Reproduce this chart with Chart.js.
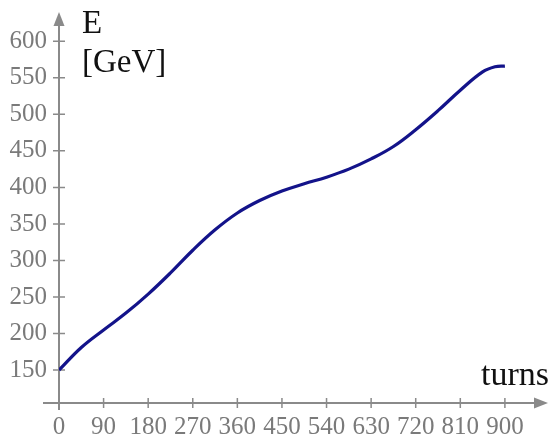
<!DOCTYPE html>
<html>
<head>
<meta charset="utf-8">
<script src="https://cdn.jsdelivr.net/npm/chart.js@4"></script>
<style>
  html, body { margin: 0; padding: 0; background: #fff; }
  #wrap { width: 550px; height: 437px; }
</style>
</head>
<body>
<div id="wrap"><canvas id="energyChart"></canvas></div>
<script>
// values
var turns  = [0, 45, 90, 135, 180, 225, 270, 315, 360, 405, 450, 495, 540, 585, 630, 675, 720, 765, 810, 855, 880, 900];
var energy = [150, 181, 205, 228, 254, 283, 314, 342, 365, 382, 395, 405, 414, 425, 439, 456, 479, 505, 533, 558, 565, 566];
var xTicks = [0, 90, 180, 270, 360, 450, 540, 630, 720, 810, 900];
var yTicks = [150, 200, 250, 300, 350, 400, 450, 500, 550, 600];

var axisColor = "#8a8a8a";
var serif = "'Liberation Serif', 'DejaVu Serif', serif";

function points() {
    let pts = [];
    for (let i = 0; i < turns.length; i++) {
        pts.push({ x: turns[i], y: energy[i] });
    }
    return pts;
}

// draws the arrowed axes, crossing tick marks and axis titles
var axesPlugin = {
    id: "arrowAxes",
    beforeDatasetsDraw: function (chart) {
        let ctx = chart.ctx;
        let xs = chart.scales.x, ys = chart.scales.y;
        let x0 = xs.getPixelForValue(0);
        let yb = chart.chartArea.bottom;
        let top = chart.chartArea.top;
        let right = chart.chartArea.right;

        ctx.save();
        ctx.strokeStyle = axisColor;
        ctx.fillStyle = axisColor;
        ctx.lineWidth = 2;

        ctx.beginPath();
        ctx.moveTo(43, yb);
        ctx.lineTo(right - 8, yb);
        ctx.moveTo(x0, yb + 7);
        ctx.lineTo(x0, top + 8);
        ctx.stroke();

        // arrow heads
        ctx.beginPath();
        ctx.moveTo(x0, top);
        ctx.lineTo(x0 - 5.5, top + 14);
        ctx.lineTo(x0 + 5.5, top + 14);
        ctx.closePath();
        ctx.fill();
        ctx.beginPath();
        ctx.moveTo(right, yb);
        ctx.lineTo(right - 14, yb - 5.5);
        ctx.lineTo(right - 14, yb + 5.5);
        ctx.closePath();
        ctx.fill();

        ctx.lineWidth = 1.5;
        ctx.beginPath();
        xTicks.forEach(function (t) {
            let px = xs.getPixelForValue(t);
            ctx.moveTo(px, yb - 5);
            ctx.lineTo(px, yb + 5);
        });
        yTicks.forEach(function (t) {
            let py = ys.getPixelForValue(t);
            ctx.moveTo(x0 - 6, py);
            ctx.lineTo(x0 + 6, py);
        });
        ctx.stroke();

        ctx.fillStyle = "#111";
        ctx.font = "33px " + serif;
        ctx.textAlign = "left";
        ctx.textBaseline = "alphabetic";
        ctx.fillText("E", 82, 33);
        ctx.fillText("[GeV]", 82, 72);
        ctx.font = "34px " + serif;
        ctx.textAlign = "right";
        ctx.fillText("turns", 549, 385);
        ctx.restore();
    }
};

let ctx = document.getElementById("energyChart").getContext("2d");

var energyChart = new Chart(ctx, {
    type: "line",
    data: {
        datasets: [{
            data: points(),
            borderColor: "#13138a",
            borderWidth: 3.2,
            pointRadius: 0,
            fill: false,
            tension: 0.4
        }]
    },
    options: {
        responsive: true,
        maintainAspectRatio: false,
        animation: false,
        layout: { padding: { top: 12, right: 2, left: 0, bottom: 0 } },
        plugins: { legend: { display: false }, tooltip: { enabled: false } },
        scales: {
            x: {
                type: "linear",
                min: 0,
                max: 987,
                grid: { display: false },
                border: { display: false },
                afterBuildTicks: function (scale) {
                    scale.ticks = xTicks.map(function (v) { return { value: v }; });
                },
                afterFit: function (scale) {
                    scale.height = 34;
                    scale.paddingLeft = 0;
                    scale.paddingRight = 0;
                },
                ticks: {
                    autoSkip: false,
                    maxRotation: 0,
                    padding: 1,
                    color: "#7a7a7a",
                    font: { family: serif, size: 25 }
                }
            },
            y: {
                type: "linear",
                min: 105,
                max: 640,
                grid: { display: false },
                border: { display: false },
                afterBuildTicks: function (scale) {
                    scale.ticks = yTicks.map(function (v) { return { value: v }; });
                },
                afterFit: function (scale) {
                    scale.width = 59;
                    scale.paddingTop = 0;
                    scale.paddingBottom = 0;
                },
                ticks: {
                    autoSkip: false,
                    padding: 4,
                    color: "#7a7a7a",
                    font: { family: serif, size: 25 }
                }
            }
        }
    },
    plugins: [axesPlugin]
});
</script>
</body>
</html>
